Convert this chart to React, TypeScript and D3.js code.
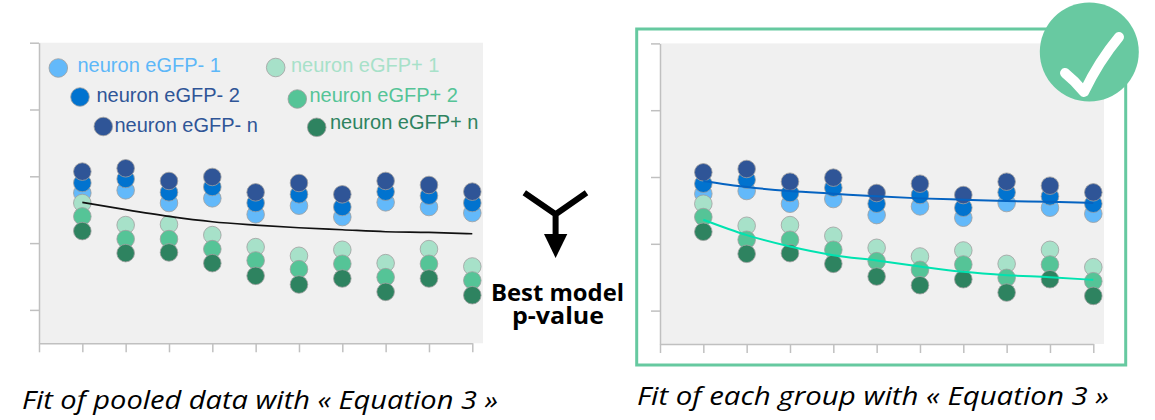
import React, { useRef, useEffect } from "react";
import * as d3 from "d3";

// ten time points along the x axis (no labels shown)
const timepoints = [1, 2, 3, 4, 5, 6, 7, 8, 9, 10];
const yTicks = [0.5, 1.5, 2.5, 3.5, 4.5];

// neuron values
const negative1 = [2.25, 2.29, 2.1, 2.17, 1.93, 2.06, 1.89, 2.11, 2.04, 1.95];
const negative2 = [2.4, 2.46, 2.26, 2.34, 2.1, 2.23, 2.04, 2.27, 2.21, 2.1];
const negativeN = [2.57, 2.62, 2.43, 2.49, 2.26, 2.4, 2.23, 2.43, 2.37, 2.27];
const positive1 = [2.1, 1.77, 1.78, 1.62, 1.44, 1.31, 1.4, 1.2, 1.41, 1.15];
const positive2 = [1.9, 1.56, 1.56, 1.41, 1.24, 1.11, 1.19, 0.99, 1.19, 0.94];
const positiveN = [1.68, 1.35, 1.36, 1.2, 1.01, 0.88, 0.97, 0.77, 0.97, 0.72];

// fitted curves
const pooledFit = [2.11, 2.0, 1.9, 1.82, 1.77, 1.73, 1.7, 1.67, 1.66, 1.64];
const negativeFit = [2.44, 2.35, 2.29, 2.25, 2.21, 2.18, 2.16, 2.14, 2.13, 2.11];
const positiveFit = [1.86, 1.63, 1.46, 1.33, 1.25, 1.16, 1.08, 1.03, 1.0, 0.96];

const seriesNames = [
  "neuron eGFP- 1",
  "neuron eGFP- 2",
  "neuron eGFP- n",
  "neuron eGFP+ 1",
  "neuron eGFP+ 2",
  "neuron eGFP+ n",
];
const seriesValues = [negative1, negative2, negativeN, positive1, positive2, positiveN];
const seriesColors = ["#63B9FA", "#0173CF", "#2F5597", "#A7E1C9", "#55C497", "#2E8360"];
const legendTextColors = ["#5DB7F8", "#2F5597", "#2F5597", "#A7E1C9", "#55C497", "#2E8360"];

const captions = [
  "Fit of pooled data with « Equation 3 »",
  "Fit of each group with « Equation 3 »",
];

const App: React.FC = () => {
  const ref = useRef<SVGSVGElement | null>(null);

  useEffect(() => {
    const svg = d3.select(ref.current);
    svg.selectAll("*").remove();

    const drawPanel = (
      left: number,
      bottom: number,
      fits: { values: number[]; color: string; width: number }[],
    ) => {
      const g = svg.append("g");
      const x = d3.scaleLinear().domain([0, 10]).range([left, left + 433.3]);
      const y = d3.scaleLinear().domain([0, 4.5]).range([bottom, bottom - 300.6]);

      // plot area
      g.append("rect")
        .attr("x", left)
        .attr("y", y(4.5))
        .attr("width", 444)
        .attr("height", bottom - y(4.5))
        .attr("fill", "#F0F0F0");

      // axes
      const yAxis = g
        .append("g")
        .attr("transform", `translate(${left},0)`)
        .call(
          d3.axisLeft(y).tickValues(yTicks).tickSize(9).tickSizeOuter(0).tickFormat(() => "") as any,
        );
      const xAxis = g
        .append("g")
        .attr("transform", `translate(0,${bottom})`)
        .call(
          d3.axisBottom(x).ticks(10).tickSize(9).tickSizeOuter(0).tickFormat(() => "") as any,
        );
      [yAxis, xAxis].forEach((a) => {
        a.selectAll("path, line").attr("stroke", "#C0C0C0").attr("stroke-width", 1.5);
      });

      // markers
      seriesValues.forEach((vals, si) => {
        g.append("g")
          .selectAll("circle")
          .data(vals)
          .enter()
          .append("circle")
          .attr("cx", (_, i) => x(timepoints[i]))
          .attr("cy", (d) => y(d))
          .attr("r", 8.8)
          .attr("fill", seriesColors[si])
          .attr("stroke", "#A0A0A0")
          .attr("stroke-width", 0.8);
      });

      // fit curves
      const line = d3
        .line<number>()
        .x((_, i) => x(timepoints[i]))
        .y((d) => y(d))
        .curve(d3.curveMonotoneX);
      fits.forEach((f) => {
        g.append("path")
          .datum(f.values)
          .attr("fill", "none")
          .attr("stroke", f.color)
          .attr("stroke-width", f.width)
          .attr("d", line);
      });
    };

    // right panel frame
    svg
      .append("rect")
      .attr("x", 636.7)
      .attr("y", 29)
      .attr("width", 489)
      .attr("height", 336)
      .attr("fill", "none")
      .attr("stroke", "#66C9A0")
      .attr("stroke-width", 3);

    drawPanel(39, 343.3, [{ values: pooledFit, color: "#111111", width: 1.7 }]);
    drawPanel(660, 344, [
      { values: negativeFit, color: "#0563C1", width: 2 },
      { values: positiveFit, color: "#00E3B0", width: 2 },
    ]);

    // legend (left panel only)
    const legendPos = [
      { cx: 58.3, cy: 68, tx: 77.5, ty: 71.7 },
      { cx: 80, cy: 97, tx: 96.5, ty: 102 },
      { cx: 103.3, cy: 126.5, tx: 114.5, ty: 131.7 },
      { cx: 275.7, cy: 67.5, tx: 291, ty: 71.7 },
      { cx: 297.3, cy: 99, tx: 309.5, ty: 102 },
      { cx: 316.7, cy: 127.3, tx: 330, ty: 129 },
    ];
    const legend = svg.append("g");
    seriesNames.forEach((name, i) => {
      const p = legendPos[i];
      legend
        .append("circle")
        .attr("cx", p.cx)
        .attr("cy", p.cy)
        .attr("r", 9.3)
        .attr("fill", seriesColors[i])
        .attr("stroke", "#A0A0A0")
        .attr("stroke-width", 0.8);
      legend
        .append("text")
        .attr("x", p.tx)
        .attr("y", p.ty)
        .attr("fill", legendTextColors[i])
        .style("font-family", "'Liberation Sans', Arial, sans-serif")
        .style("font-size", "20px")
        .text(name);
    });

    // Y-shaped arrow in the middle
    const arrow = svg.append("g");
    arrow
      .append("path")
      .attr("d", "M524.3,192.7 L555.6,214.3 L586.5,192.7 M555.6,214.3 L555.6,236")
      .attr("fill", "none")
      .attr("stroke", "#000")
      .attr("stroke-width", 6);
    arrow
      .append("path")
      .attr("d", "M544,234 L567.3,234 L555.6,258 Z")
      .attr("fill", "#000");

    const midText = svg
      .append("g")
      .style("font-family", "'Open Sans', 'Noto Sans', sans-serif")
      .style("font-weight", "bold")
      .style("font-size", "23px")
      .attr("fill", "#000");
    midText
      .append("text")
      .attr("x", 491)
      .attr("y", 301)
      .attr("textLength", 133)
      .attr("lengthAdjust", "spacingAndGlyphs")
      .text("Best model");
    midText
      .append("text")
      .attr("x", 512)
      .attr("y", 324)
      .attr("textLength", 92)
      .attr("lengthAdjust", "spacingAndGlyphs")
      .text("p-value");

    // check badge
    svg
      .append("circle")
      .attr("cx", 1089.3)
      .attr("cy", 52)
      .attr("r", 49.5)
      .attr("fill", "#68C9A1");
    svg
      .append("path")
      .attr("d", "M1065,73 Q1075,81 1084,92 Q1099,61 1119,37")
      .attr("fill", "none")
      .attr("stroke", "#FFFFFF")
      .attr("stroke-width", 10)
      .attr("stroke-linecap", "round")
      .attr("stroke-linejoin", "round");

    // captions
    const capPos = [
      { x: 22, y: 409, len: 476 },
      { x: 637, y: 405, len: 472 },
    ];
    captions.forEach((c, i) => {
      svg
        .append("text")
        .attr("x", capPos[i].x)
        .attr("y", capPos[i].y)
        .attr("textLength", capPos[i].len)
        .attr("lengthAdjust", "spacingAndGlyphs")
        .style("font-family", "'Open Sans', 'Noto Sans', sans-serif")
        .style("font-style", "italic")
        .style("font-size", "25px")
        .attr("fill", "#000")
        .text(c);
    });
  }, []);

  return (
    <svg
      ref={ref}
      width={1155}
      height={420}
      style={{ position: "absolute", left: 0, top: 0, background: "#fff" }}
    />
  );
};

export default App;
